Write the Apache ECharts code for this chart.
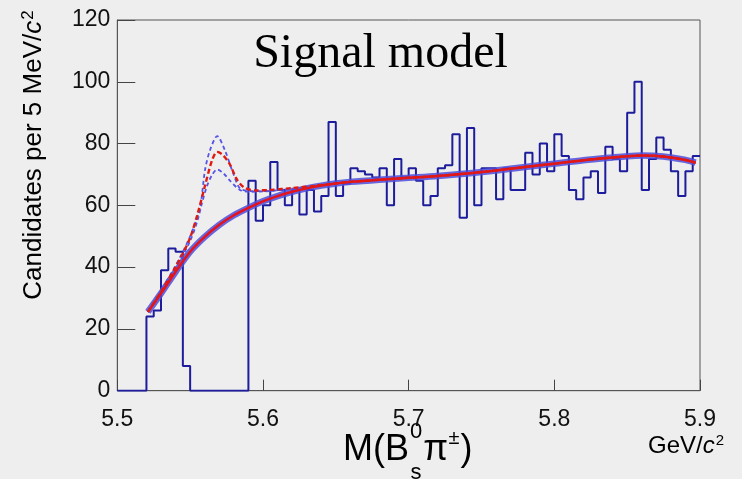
<!DOCTYPE html>
<html><head><meta charset="utf-8">
<script src="https://cdn.jsdelivr.net/npm/echarts@6/dist/echarts.min.js"></script>
<style>html,body{margin:0;padding:0;background:#eeeeee;}#c{width:742px;height:479px;}</style>
</head><body><div id="c"></div>
<script>
// Histogram: 5 MeV bins from 5.500 to 5.900 GeV/c^2
const binStart = 5.5;
const binWidth = 0.005;
const counts = [0,0,0,0,24,26,39,46,45,8,
  0,0,0,0,0,0,0,0,
  68,55,60,74,65,60,65,57,65,58,63,87,63,
  67,72,71,70,69,72,60,75,69,72,68,60,63,72,
  73,83,56,85,60,72,72,62,72,65,65,77,70,80,71,
  83,76,65,62,69,71,64,79,75,71,
  90,100,65,75,82,78,71,63,71,76];

// Background fit curve
const bgX = [5.521,5.53,5.54,5.55,5.56,5.57,5.58,5.59,5.60,5.61,5.62,5.63,5.64,5.65,5.66,5.68,5.70,5.72,5.74,5.76,5.78,5.80,5.82,5.84,5.85,5.86,5.87,5.88,5.89,5.897];
const bgY = [25.5,31.5,38.5,45,49.8,53.7,56.8,59.2,61.3,63,64.4,65.5,66.4,67.1,67.6,68.3,68.9,69.5,70.3,71.3,72.4,73.5,74.6,75.5,75.9,76.1,76,75.5,74.7,73.8];

// Signal + background (red dashed), peak region
const sigX = [5.521,5.53,5.54,5.545,5.55,5.555,5.56,5.565,5.5685,5.572,5.577,5.582,5.587,5.595,5.605,5.62,5.635,5.65];
const sigY = [25.5,32,40,44.4,49.5,57,66,74.5,77.3,76.5,73.5,68.5,65.8,64.8,65,65.6,66.3,67.1];

// Upper variation (blue dashed)
const upX = [5.521,5.53,5.54,5.55,5.5568,5.5602,5.5636,5.5686,5.5739,5.5796,5.5842,5.591,5.60,5.62,5.64,5.65];
const upY = [25.5,32.5,40.5,50,59.5,71.4,77.8,82.4,77.8,70.3,65.5,64.6,64.6,65.4,66.5,67.1];

// Lower variation (blue dashed)
const loX = [5.521,5.53,5.54,5.55,5.555,5.558,5.5614,5.565,5.5686,5.573,5.5773,5.5842,5.59,5.60,5.62,5.64,5.65];
const loY = [25.5,31.8,39.5,48.5,55,60.5,66,69.8,71.6,70.3,68,65,64.4,64.5,65.3,66.4,67.1];

const xTicks = [5.5,5.6,5.7,5.8,5.9];
const yTicks = [0,20,40,60,80,100,120];

// ---- build data ----
const histData = counts.map((c,i)=>[+(binStart+i*binWidth).toFixed(3), c]);
histData.push([+(binStart+counts.length*binWidth).toFixed(3), counts[counts.length-1]]);
const pairs = (xs,ys)=>xs.map((x,i)=>[x,ys[i]]);
const bgData = pairs(bgX,bgY);
const tail = bgData.filter(p=>p[0]>5.65);
const sigData = pairs(sigX,sigY).concat(tail);
const upData = pairs(upX,upY).concat(tail);
const loData = pairs(loX,loY).concat(tail);

// ---- text layout helpers ----
const mctx = document.createElement('canvas').getContext('2d');
function fnt(size, italic, fam){ return (italic?'italic ':'') + size + 'px "' + (fam||'Liberation Sans') + '"'; }
function tw(t, size, italic){ mctx.font = fnt(size, italic); return mctx.measureText(t).width; }
function txt(t, x, y, size, italic, extra){
  return Object.assign({type:'text', x:x, y:y, silent:true,
    style:{text:t, font:fnt(size,italic), fill:'#000', align:'left', verticalAlign:'middle'}}, extra||{});
}

// X title: M(B^0_s pi^±)
const xt = [];
let cx = 343;
xt.push(txt('M(B', cx, 450.5, 36)); cx += tw('M(B',36) + 1;
xt.push(txt('0', cx, 432, 22)); xt.push(txt('s', cx+0.5, 473, 22)); cx += Math.max(tw('0',22), tw('s',22)) + 1;
xt.push(txt('\u03c0', cx, 450.5, 36)); cx += tw('\u03c0',36) + 0.5;
xt.push(txt('\u00b1', cx, 438, 20)); cx += tw('\u00b1',20) + 1;
xt.push(txt(')', cx, 450.5, 36));

// Unit: GeV/c^2
const ut = [];
let ux = 648;
ut.push(txt('GeV/', ux, 446, 24)); ux += tw('GeV/',24);
ut.push(txt('c', ux, 446, 24, true)); ux += tw('c',24,true) + 1;
ut.push(txt('2', ux, 441, 15));

// Y title (rotated)
const ys = 26;
const yParts = [['Candidates per 5 MeV/',ys,false,0],['c',ys,true,0],['2',17,false,-6]];
let yw = 0; yParts.forEach(p=>{ yw += tw(p[0],p[1],p[2]) + (p[0]==='2'?1:0); });
const yt = []; let yx = -yw/2;
yParts.forEach(p=>{ if(p[0]==='2') yx += 1; yt.push(txt(p[0], yx, p[3], p[1], p[2])); yx += tw(p[0],p[1],p[2]); });

const chart = echarts.init(document.getElementById('c'), null, {renderer:'canvas'});
chart.setOption({
  backgroundColor:'#eeeeee',
  animation:false,
  grid:{left:117.3, right:42, top:20, bottom:88.3, show:true, borderColor:'#555', borderWidth:1, backgroundColor:'transparent'},
  xAxis:{type:'value', min:xTicks[0], max:xTicks[xTicks.length-1], interval:0.1,
    axisLine:{lineStyle:{color:'#555', width:1}},
    axisTick:{inside:true, length:11, lineStyle:{color:'#444'}},
    axisLabel:{fontSize:23, color:'#111', fontFamily:'Liberation Sans', margin:17, formatter:v=>v.toFixed(1)},
    splitLine:{show:false}},
  yAxis:{type:'value', min:yTicks[0], max:yTicks[yTicks.length-1], interval:20,
    axisLine:{show:true, lineStyle:{color:'#555', width:1}},
    axisTick:{show:true, inside:true, length:18, lineStyle:{color:'#444'}},
    axisLabel:{fontSize:23, color:'#111', fontFamily:'Liberation Sans', margin:7},
    splitLine:{show:false}},
  series:[
    {type:'line', data:histData, step:'end', symbol:'none', lineStyle:{color:'#1c1c9c', width:2}, z:2},
    {type:'line', data:bgData, smooth:0.3, symbol:'none', lineStyle:{color:'rgba(78,78,218,0.85)', width:6.5}, z:3},
    {type:'line', data:upData, smooth:0.3, symbol:'none', lineStyle:{color:'#5555e6', width:1.8, type:[4,3]}, z:4},
    {type:'line', data:loData, smooth:0.3, symbol:'none', lineStyle:{color:'#5555e6', width:1.8, type:[4,3]}, z:4},
    {type:'line', data:bgData, smooth:0.3, symbol:'none', lineStyle:{color:'#e5141c', width:2.5}, z:5},
    {type:'line', data:sigData, smooth:0.3, symbol:'none', lineStyle:{color:'#e01a10', width:2.4, type:[5,3]}, z:6}
  ],
  graphic:[
    {type:'text', x:380.5, y:54, silent:true, style:{text:'Signal model', font:'48px "Liberation Serif"', fill:'#000', align:'center', verticalAlign:'middle'}},
    {type:'group', children:xt},
    {type:'group', children:ut},
    {type:'group', x:34, y:155, rotation:Math.PI/2, children:yt}
  ]
});
</script>
</body></html>
